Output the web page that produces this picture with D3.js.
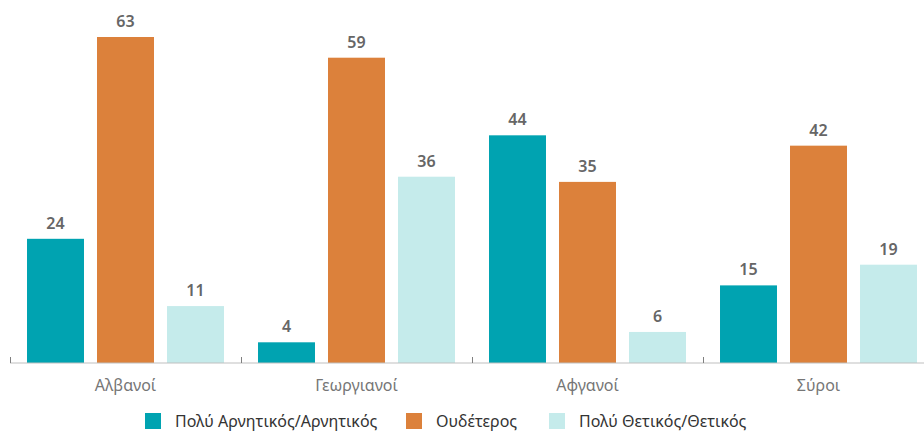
<!DOCTYPE html>
<html>
<head>
<meta charset="utf-8">
<script src="https://cdn.jsdelivr.net/npm/d3@7/dist/d3.min.js"></script>
<style>
  html, body { margin: 0; padding: 0; background: #fff; }
  text { font-family: "Noto Sans", "DejaVu Sans", sans-serif; }
</style>
</head>
<body>
<div id="chart"></div>
<script>
  "use strict";

  var categories = ["Αλβανοί", "Γεωργιανοί", "Αφγανοί", "Σύροι"];
  var seriesNames = ["Πολύ Αρνητικός/Αρνητικός", "Ουδέτερος", "Πολύ Θετικός/Θετικός"];
  var negativeValues = [24, 4, 44, 15];
  var neutralValues = [63, 59, 35, 42];
  var positiveValues = [11, 36, 6, 19];
  var colors = ["#00a3b1", "#dc813b", "#c5ebeb"];

  var width = 924, height = 432;
  var seriesValues = [negativeValues, neutralValues, positiveValues];

  var svg = d3.select("#chart").append("svg")
    .attr("width", width)
    .attr("height", height);

  var x0 = d3.scaleBand()
    .domain(categories)
    .range([10, 934])
    .paddingInner(0)
    .paddingOuter(0);

  var x1 = d3.scaleBand()
    .domain(d3.range(seriesNames.length))
    .range([0, x0.bandwidth()])
    .paddingInner(0.186)
    .paddingOuter(0.243);

  var y = d3.scaleLinear()
    .domain([0, 63])
    .range([363, 37]);

  // Bars
  var groups = svg.selectAll(".grp")
    .data(categories)
    .enter().append("g")
    .attr("class", "grp")
    .attr("transform", function (d) { return "translate(" + x0(d) + ",0)"; });

  groups.each(function (cat, ci) {
    var g = d3.select(this);
    var rows = seriesValues.map(function (vals, si) { return { s: si, v: vals[ci] }; });

    g.selectAll("rect")
      .data(rows)
      .enter().append("rect")
      .attr("x", function (d) { return x1(d.s); })
      .attr("y", function (d) { return y(d.v); })
      .attr("width", x1.bandwidth())
      .attr("height", function (d) { return y(0) - y(d.v); })
      .attr("fill", function (d) { return colors[d.s]; });

    g.selectAll(".val")
      .data(rows)
      .enter().append("text")
      .attr("class", "val")
      .attr("x", function (d) { return x1(d.s) + x1.bandwidth() / 2; })
      .attr("y", function (d) { return y(d.v) - 10; })
      .attr("text-anchor", "middle")
      .attr("font-size", "16px")
      .attr("font-weight", "600")
      .attr("fill", "#666")
      .text(function (d) { return d.v; });
  });

  // X axis
  var axis = svg.append("g").attr("transform", "translate(0,363)");
  axis.append("line")
    .attr("x1", 10).attr("x2", width)
    .attr("stroke", "#bfbfbf").attr("stroke-width", 1);
  var tickPos = categories.map(function (c) { return x0(c); }).concat([x0.range()[1]]);
  axis.selectAll(".tick")
    .data(tickPos)
    .enter().append("line")
    .attr("x1", function (d) { return Math.round(d) + 0.5; })
    .attr("x2", function (d) { return Math.round(d) + 0.5; })
    .attr("y1", -6).attr("y2", 0)
    .attr("stroke", "#7f7f7f");
  axis.selectAll(".cat")
    .data(categories)
    .enter().append("text")
    .attr("x", function (d) { return x0(d) + x0.bandwidth() / 2; })
    .attr("y", 28)
    .attr("text-anchor", "middle")
    .attr("font-size", "16px")
    .attr("fill", "#767676")
    .text(function (d) { return d; });

  // Legend
  var legendX = [145, 406, 549];
  var legend = svg.selectAll(".leg")
    .data(seriesNames)
    .enter().append("g")
    .attr("transform", function (d, i) { return "translate(" + legendX[i] + ",413)"; });
  legend.append("rect")
    .attr("width", 16).attr("height", 16)
    .attr("fill", function (d, i) { return colors[i]; });
  legend.append("text")
    .attr("x", 30).attr("y", 14)
    .attr("font-size", "16px")
    .attr("fill", "#333")
    .text(function (d) { return d; });
</script>
</body>
</html>
